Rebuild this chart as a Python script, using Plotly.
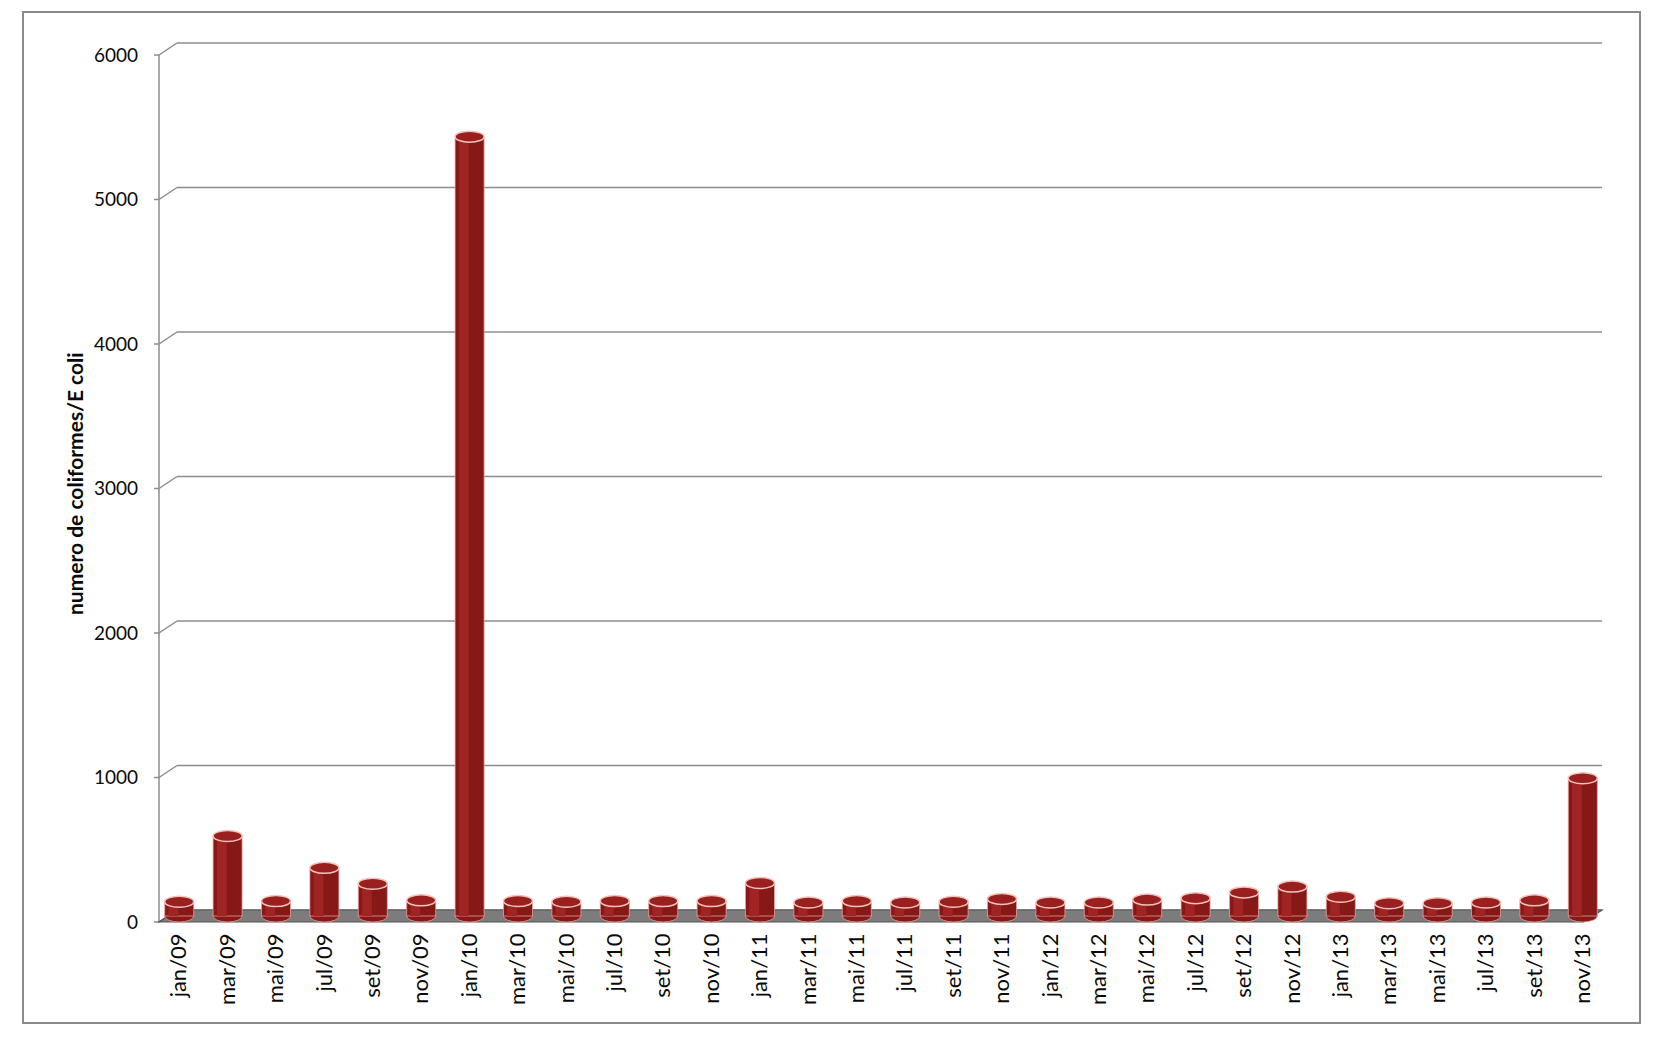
import plotly.graph_objects as go

# ---------------- data ----------------
categories = ["jan/09", "mar/09", "mai/09", "jul/09", "set/09", "nov/09",
              "jan/10", "mar/10", "mai/10", "jul/10", "set/10", "nov/10",
              "jan/11", "mar/11", "mai/11", "jul/11", "set/11", "nov/11",
              "jan/12", "mar/12", "mai/12", "jul/12", "set/12", "nov/12",
              "jan/13", "mar/13", "mai/13", "jul/13", "set/13", "nov/13"]
values = [95, 550, 100, 330, 220, 105,
          5390, 100, 95, 100, 100, 100,
          225, 90, 100, 90, 95, 115,
          90, 90, 110, 120, 160, 200,
          130, 85, 85, 90, 105, 950]
y_ticks = [0, 1000, 2000, 3000, 4000, 5000, 6000]
y_title = "numero de coliformes/E coli"

# ---------------- layout geometry ----------------
W, H = 1659, 1037
L, R, T, B = 155, 52, 35, 112
pw, ph = W - L - R, H - T - B
ZERO_PX = 916                 # pixel row of value 0 (mid depth)
K = 867 / 6000                # pixels per unit
y_range = [-(H - B - ZERO_PX) / K, (ZERO_PX - T) / K]


def X(px):
    return (px - L) / pw


def Y(py):
    return (H - B - py) / ph


BAR_W = 0.6
bar_px = BAR_W * pw / len(categories)
DEPTH_UP = 6      # back wall offset (px, upward)
DEPTH_DN = 6      # front plane offset (px, downward)

FONT = "Lato, 'Open Sans', sans-serif"
GRID = "#8c8c8c"
TXT = "#0a0a0a"

fig = go.Figure()
fig.add_bar(x=categories, y=values, width=BAR_W,
            marker=dict(color="#861818", line=dict(color="rgba(235,165,160,0.75)", width=1)),
            hoverinfo="skip", showlegend=False)
fig.add_bar(x=categories, y=values, width=0.2, offset=-0.22,
            marker=dict(color="#a12424", line=dict(width=0)),
            hoverinfo="skip", showlegend=False)

shapes = []
# back-wall gridlines, depth connectors and small front ticks
for v in y_ticks:
    shapes.append(dict(type="line", layer="below", xref="paper", yref="y",
                       x0=X(177), x1=X(1602), ysizemode="pixel", yanchor=v,
                       y0=DEPTH_UP, y1=DEPTH_UP, line=dict(color=GRID, width=1.5)))
    shapes.append(dict(type="line", layer="below", xref="paper", yref="y",
                       x0=X(159), x1=X(177), ysizemode="pixel", yanchor=v,
                       y0=-DEPTH_DN, y1=DEPTH_UP, line=dict(color=GRID, width=1.5)))
    shapes.append(dict(type="line", layer="below", xref="paper", yref="y",
                       x0=X(154), x1=X(159), ysizemode="pixel", yanchor=v,
                       y0=-DEPTH_DN, y1=-DEPTH_DN, line=dict(color=GRID, width=1.5)))
# front vertical axis
shapes.append(dict(type="line", layer="below", xref="paper", yref="paper",
                   x0=X(159), x1=X(159), y0=Y(922), y1=Y(55),
                   line=dict(color=GRID, width=1.5)))
# floor
shapes.append(dict(type="path", layer="below", xref="paper", yref="paper",
                   path=f"M {X(159)},{Y(922)} L {X(1584)},{Y(922)} L {X(1602)},{Y(910)} L {X(177)},{Y(910)} Z",
                   fillcolor="#7c7c7c", line=dict(color="#555555", width=1.2)))
# cylinder bottoms and tops
half = bar_px / 2
for c, v in zip(categories, values):
    shapes.append(dict(type="circle", layer="below", xref="x", yref="y",
                       xsizemode="pixel", ysizemode="pixel", xanchor=c, yanchor=0,
                       x0=-half, x1=half, y0=-6, y1=6,
                       fillcolor="#861818", line=dict(color="rgba(235,165,160,0.75)", width=1)))
    shapes.append(dict(type="circle", layer="above", xref="x", yref="y",
                       xsizemode="pixel", ysizemode="pixel", xanchor=c, yanchor=v,
                       x0=-half, x1=half, y0=-5, y1=6,
                       fillcolor="#9a1f1f", line=dict(color="#f4c4bc", width=1.5)))
# outer frame
shapes.append(dict(type="rect", layer="below", xref="paper", yref="paper",
                   x0=X(23), x1=X(1640), y0=Y(1023), y1=Y(12),
                   line=dict(color="#8a8a8a", width=2), fillcolor="rgba(0,0,0,0)"))

fig.update_layout(
    width=W, height=H,
    margin=dict(l=L, r=R, t=T, b=B),
    paper_bgcolor="white", plot_bgcolor="white",
    barmode="overlay",
    font=dict(family=FONT, color=TXT),
    shapes=shapes,
    xaxis=dict(type="category", categoryorder="array", categoryarray=categories,
               range=[-0.5, len(categories) - 0.5],
               tickangle=-90, tickfont=dict(size=22, family=FONT, color=TXT),
               ticks="", showgrid=False, zeroline=False, showline=False,
               ticklabelstandoff=3),
    yaxis=dict(range=y_range, tickvals=y_ticks, ticktext=[str(v) for v in y_ticks],
               tickfont=dict(size=19, family=FONT, color=TXT),
               ticks="", showgrid=False, zeroline=False, showline=False,
               ticklabelshift=DEPTH_DN, ticklabelstandoff=16),
    annotations=[dict(text=f"<b>{y_title}</b>", textangle=-90, showarrow=False,
                      xref="paper", yref="paper", x=X(75), y=Y(484),
                      xanchor="center", yanchor="middle",
                      font=dict(size=21, family=FONT, color=TXT))],
)

fig.write_html("out.html", config={"displayModeBar": False},
               post_script="document.body.style.margin='0';document.body.style.overflow='hidden';")
